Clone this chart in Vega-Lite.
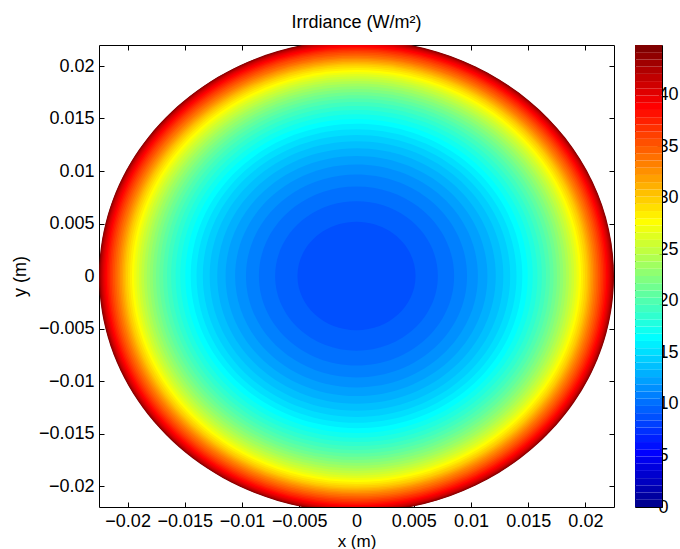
{
  "$schema": "https://vega.github.io/schema/vega-lite/v6.json",
  "padding": {"left": 11, "top": 13, "right": 0, "bottom": 0},
  "config": {
    "font": "Liberation Sans",
    "view": {"stroke": "black", "strokeWidth": 1},
    "axis": {"labelFont": "Liberation Sans", "titleFont": "Liberation Sans", "labelColor": "black", "titleColor": "black", "tickColor": "black", "labelFontSize": 18, "titleFontSize": 18, "titleFontWeight": "normal", "grid": false, "domain": false, "tickSize": -5}
  },
  "datasets": {
    "rings": [
      {"r": 0.0225, "level": 44.8}, {"r": 0.02246, "level": 44.1}, {"r": 0.02241, "level": 43.4}, {"r": 0.02236, "level": 42.7},
      {"r": 0.0223, "level": 42.0}, {"r": 0.02223, "level": 41.3}, {"r": 0.02215, "level": 40.6}, {"r": 0.02205, "level": 39.9},
      {"r": 0.02194, "level": 39.2}, {"r": 0.02182, "level": 38.5}, {"r": 0.02169, "level": 37.8}, {"r": 0.02156, "level": 37.1},
      {"r": 0.02142, "level": 36.4}, {"r": 0.02128, "level": 35.7}, {"r": 0.02113, "level": 35.0}, {"r": 0.02098, "level": 34.3},
      {"r": 0.02082, "level": 33.6}, {"r": 0.02068, "level": 32.9}, {"r": 0.02054, "level": 32.2}, {"r": 0.02040, "level": 31.5},
      {"r": 0.02027, "level": 30.8}, {"r": 0.02014, "level": 30.1}, {"r": 0.01997, "level": 29.4}, {"r": 0.01980, "level": 28.7},
      {"r": 0.01962, "level": 28.0}, {"r": 0.01943, "level": 27.3}, {"r": 0.01923, "level": 26.6}, {"r": 0.01902, "level": 25.9},
      {"r": 0.01880, "level": 25.2}, {"r": 0.01857, "level": 24.5}, {"r": 0.01833, "level": 23.8}, {"r": 0.01807, "level": 23.1},
      {"r": 0.01780, "level": 22.4}, {"r": 0.01752, "level": 21.7}, {"r": 0.01722, "level": 21.0}, {"r": 0.01690, "level": 20.3},
      {"r": 0.01656, "level": 19.6}, {"r": 0.01620, "level": 18.9}, {"r": 0.01581, "level": 18.2}, {"r": 0.01540, "level": 17.5},
      {"r": 0.01496, "level": 16.8}, {"r": 0.01449, "level": 16.1}, {"r": 0.01398, "level": 15.4}, {"r": 0.01343, "level": 14.7},
      {"r": 0.01283, "level": 14.0}, {"r": 0.01217, "level": 13.3}, {"r": 0.01144, "level": 12.6}, {"r": 0.01061, "level": 11.9},
      {"r": 0.00966, "level": 11.2}, {"r": 0.00853, "level": 10.5}, {"r": 0.00711, "level": 9.8}, {"r": 0.00516, "level": 9.1}
    ],
    "cbar": [
      {"lo": 0, "hi": 0.7}, {"lo": 0.7, "hi": 1.4}, {"lo": 1.4, "hi": 2.1}, {"lo": 2.1, "hi": 2.8},
      {"lo": 2.8, "hi": 3.5}, {"lo": 3.5, "hi": 4.2}, {"lo": 4.2, "hi": 4.9}, {"lo": 4.9, "hi": 5.6},
      {"lo": 5.6, "hi": 6.3}, {"lo": 6.3, "hi": 7.0}, {"lo": 7.0, "hi": 7.7}, {"lo": 7.7, "hi": 8.4},
      {"lo": 8.4, "hi": 9.1}, {"lo": 9.1, "hi": 9.8}, {"lo": 9.8, "hi": 10.5}, {"lo": 10.5, "hi": 11.2},
      {"lo": 11.2, "hi": 11.9}, {"lo": 11.9, "hi": 12.6}, {"lo": 12.6, "hi": 13.3}, {"lo": 13.3, "hi": 14.0},
      {"lo": 14.0, "hi": 14.7}, {"lo": 14.7, "hi": 15.4}, {"lo": 15.4, "hi": 16.1}, {"lo": 16.1, "hi": 16.8},
      {"lo": 16.8, "hi": 17.5}, {"lo": 17.5, "hi": 18.2}, {"lo": 18.2, "hi": 18.9}, {"lo": 18.9, "hi": 19.6},
      {"lo": 19.6, "hi": 20.3}, {"lo": 20.3, "hi": 21.0}, {"lo": 21.0, "hi": 21.7}, {"lo": 21.7, "hi": 22.4},
      {"lo": 22.4, "hi": 23.1}, {"lo": 23.1, "hi": 23.8}, {"lo": 23.8, "hi": 24.5}, {"lo": 24.5, "hi": 25.2},
      {"lo": 25.2, "hi": 25.9}, {"lo": 25.9, "hi": 26.6}, {"lo": 26.6, "hi": 27.3}, {"lo": 27.3, "hi": 28.0},
      {"lo": 28.0, "hi": 28.7}, {"lo": 28.7, "hi": 29.4}, {"lo": 29.4, "hi": 30.1}, {"lo": 30.1, "hi": 30.8},
      {"lo": 30.8, "hi": 31.5}, {"lo": 31.5, "hi": 32.2}, {"lo": 32.2, "hi": 32.9}, {"lo": 32.9, "hi": 33.6},
      {"lo": 33.6, "hi": 34.3}, {"lo": 34.3, "hi": 35.0}, {"lo": 35.0, "hi": 35.7}, {"lo": 35.7, "hi": 36.4},
      {"lo": 36.4, "hi": 37.1}, {"lo": 37.1, "hi": 37.8}, {"lo": 37.8, "hi": 38.5}, {"lo": 38.5, "hi": 39.2},
      {"lo": 39.2, "hi": 39.9}, {"lo": 39.9, "hi": 40.6}, {"lo": 40.6, "hi": 41.3}, {"lo": 41.3, "hi": 42.0},
      {"lo": 42.0, "hi": 42.7}, {"lo": 42.7, "hi": 43.4}, {"lo": 43.4, "hi": 44.1}, {"lo": 44.1, "hi": 44.8}
    ]
  },
  "hconcat": [
    {
      "width": 515,
      "height": 462,
      "title": {"text": "Irrdiance (W/m²)", "fontSize": 18, "fontWeight": "normal", "font": "Liberation Sans", "color": "black", "frame": "group", "anchor": "middle", "offset": 13},
      "data": {"name": "rings"},
      "layer": [
        {
          "mark": {"type": "point", "shape": "M-1,0A1,0.9175,0,1,1,1,0A1,0.9175,0,1,1,-1,0Z", "filled": true, "opacity": 1, "strokeWidth": 0, "clip": true},
          "encoding": {
            "x": {"datum": 0, "type": "quantitative", "scale": {"domain": [-0.0225, 0.0225], "nice": false, "zero": false},
                  "axis": {"orient": "bottom", "values": [-0.02, -0.015, -0.01, -0.005, 0, 0.005, 0.01, 0.015, 0.02], "format": "~g", "labelPadding": 10, "title": "x (m)", "titleFontSize": 17, "titlePadding": 3}},
            "y": {"datum": 0, "type": "quantitative", "scale": {"domain": [-0.022, 0.022], "nice": false, "zero": false},
                  "axis": {"orient": "left", "values": [-0.02, -0.015, -0.01, -0.005, 0, 0.005, 0.01, 0.015, 0.02], "format": "~g", "labelPadding": 10, "title": "y (m)", "titlePadding": 8.5}},
            "size": {"field": "r", "type": "quantitative", "scale": {"type": "pow", "exponent": 2, "domain": [0, 0.0225], "range": [0, 265225]}, "legend": null},
            "color": {"field": "level", "type": "quantitative", "scale": {"domain": [0, 44.8], "range": ["#000080", "#0000ff", "#0080ff", "#00ffff", "#80ff80", "#ffff00", "#ff8000", "#ff0000", "#800000"], "interpolate": "rgb"}, "legend": null},
            "order": {"field": "r", "sort": "descending"}
          }
        },
        {
          "mark": {"type": "point", "opacity": 0},
          "encoding": {
            "x": {"datum": 0, "type": "quantitative", "axis": {"orient": "top", "values": [-0.02, -0.015, -0.01, -0.005, 0, 0.005, 0.01, 0.015, 0.02], "labels": false, "title": null}},
            "y": {"datum": 0, "type": "quantitative", "axis": {"orient": "right", "values": [-0.02, -0.015, -0.01, -0.005, 0, 0.005, 0.01, 0.015, 0.02], "labels": false, "title": null}}
          }
        }
      ],
      "resolve": {"axis": {"x": "independent", "y": "independent"}}
    },
    {
      "width": 27,
      "height": 462,
      "data": {"name": "cbar"},
      "mark": {"type": "rect"},
      "encoding": {
        "y": {"field": "lo", "type": "quantitative", "scale": {"domain": [0, 44.8], "nice": false, "zero": false},
              "axis": {"orient": "right", "values": [0, 5, 10, 15, 20, 25, 30, 35, 40], "title": null, "labelPadding": 1}},
        "y2": {"field": "hi"},
        "color": {"field": "hi", "type": "quantitative", "scale": {"domain": [0, 44.8], "range": ["#000080", "#0000ff", "#0080ff", "#00ffff", "#80ff80", "#ffff00", "#ff8000", "#ff0000", "#800000"], "interpolate": "rgb"}, "legend": null}
      }
    }
  ],
  "spacing": 19,
  "resolve": {"scale": {"x": "independent", "y": "independent", "color": "independent", "size": "independent"}}
}
